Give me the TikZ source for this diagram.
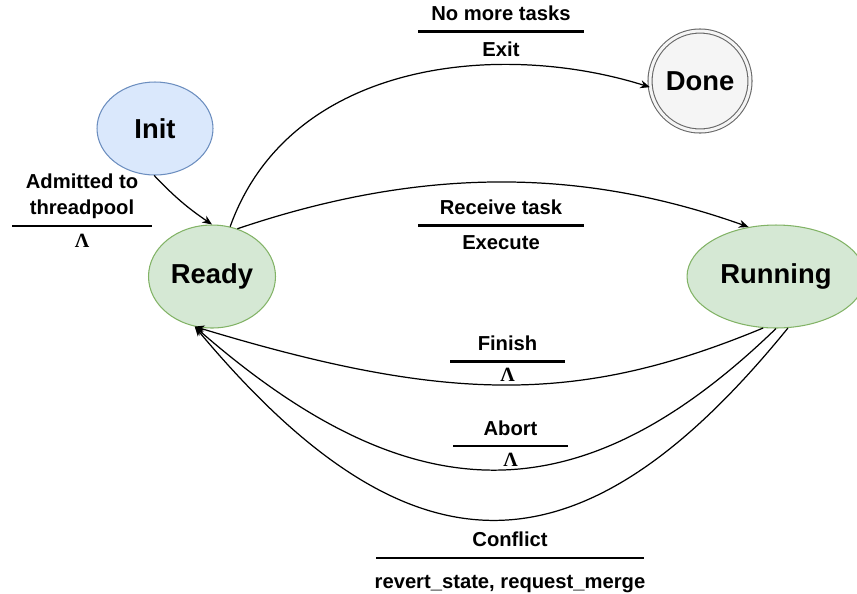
\documentclass[tikz,border=0pt]{standalone}
\usepackage{fontspec}
\setmainfont{Liberation Sans}
\newfontfamily\lamfont{Liberation Serif}
\usetikzlibrary{positioning,shapes.geometric,arrows.meta}
\definecolor{initfill}{HTML}{DAE8FC}
\definecolor{initline}{HTML}{6C8EBF}
\definecolor{statefill}{HTML}{D5E8D4}
\definecolor{stateline}{HTML}{82B366}
\definecolor{donefill}{HTML}{F5F5F5}
\definecolor{doneline}{HTML}{666666}
\tikzset{
	state/.style={ellipse, draw=stateline, fill=statefill, line width=0.6pt, inner sep=0pt,
		font=\bfseries\fontsize{15.6}{18}\selectfont},
	edge/.style={-{Stealth[length=5.5pt,width=4.6pt]}, line width=0.7pt},
	bar/.style={line width=1.35pt},
	lbl/.style={font=\bfseries\fontsize{11.5}{14.7}\selectfont, inner sep=0pt, align=center},
	lam/.style={font=\lamfont\bfseries\fontsize{11.5}{14}\selectfont, inner sep=0pt}
}

\begin{document}
\begin{tikzpicture}[x=0.02cm, y=-0.02cm]
	\useasboundingbox (0,0) rectangle (857,593);
	
	% states
	\node[state, draw=initline, fill=initfill, minimum width=2.32cm, minimum height=1.86cm] (init) at (155,128.5) {Init};
	\node[state, minimum width=2.54cm, minimum height=2.06cm] (ready) at (212,276.5) {Ready};
	\node[state, minimum width=3.56cm, minimum height=2.06cm] (running) at (776,276.5) {Running};
	\node[state, circle, draw=doneline, fill=donefill, double=donefill, double distance=1.7pt, minimum size=2.0cm] (done) at (700,81) {Done};
	
	% transitions
	\draw[edge] (init.-91) to[bend right=6] (ready.90);
	\draw[edge] (ready.70) .. controls (290,60) and (500,40) .. (done.187);
	\draw[edge] (ready.62) .. controls (420,167) and (580,167) .. (running.119);
	\draw[edge] (running.256) .. controls (580,404) and (450,404) .. (ready.251);
	\draw[edge] (running.270) .. controls (581,517) and (413,517) .. (ready.251);
	\draw[edge] (running.283) .. controls (580,584) and (410,584) .. (ready.251);
	
	% guards / actions
	\draw[bar] (12,226) -- (152,226)
		node[lbl, midway, above=3.4pt] (admit) {Admitted to\\threadpool}
		node[lam, midway, below=4pt] (admitact) {Λ};
	\draw[bar] (418,31.5) -- (584,31.5)
		node[lbl, midway, above=5.2pt] (notasks) {No more tasks}
		node[lbl, midway, below=5pt] (exit) {Exit};
	\draw[bar] (418,225.5) -- (584,225.5)
		node[lbl, midway, above=5.2pt] (receive) {Receive task}
		node[lbl, midway, below=5pt] (execute) {Execute};
	\draw[bar] (450,361.5) -- (565,361.5)
		node[lbl, midway, above=5.3pt] (finish) {Finish}
		node[lam, midway, below=3.1pt] (finishact) {Λ};
	\draw[bar] (453,446) -- (568,446)
		node[lbl, midway, above=5.3pt] (abort) {Abort}
		node[lam, midway, below=3.4pt] (abortact) {Λ};
	\draw[bar] (376,558) -- (644,558)
		node[lbl, midway, above=5.5pt] (conflict) {Conflict}
		node[lbl, midway, below=9pt] (revert) {revert\_state, request\_merge};
\end{tikzpicture}
\end{document}
